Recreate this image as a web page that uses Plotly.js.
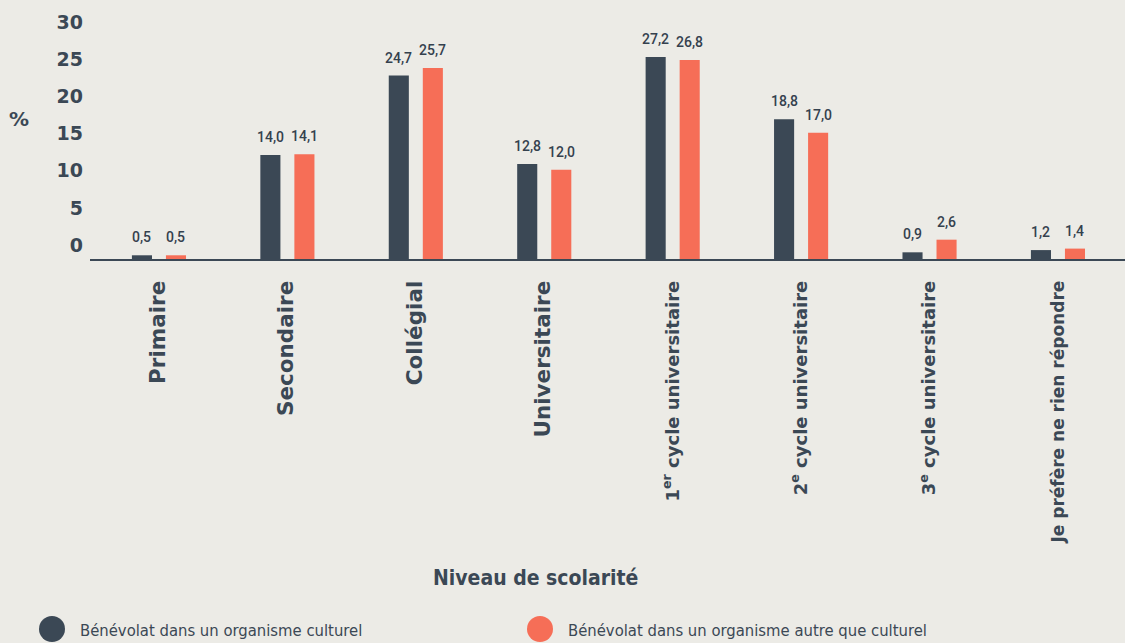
<!DOCTYPE html>
<html>
<head>
<meta charset="utf-8">
<script src="https://cdn.plot.ly/plotly-3.0.1.min.js"></script>
<style>
html,body{margin:0;padding:0;background:#ecebe6;}
#chart{width:1125px;height:643px;}
</style>
</head>
<body>
<div id="chart"></div>
<script>
// ---- data ----
var categories = ["Primaire","Secondaire","Collégial","Universitaire","1er cycle universitaire","2e cycle universitaire","3e cycle universitaire","Je préfère ne rien répondre"];
var tickLabels = ["Primaire","Secondaire","Collégial","Universitaire","1<sup>er</sup> cycle universitaire","2<sup>e</sup> cycle universitaire","3<sup>e</sup> cycle universitaire","Je préfère ne rien répondre"];
var seriesNames = ["Bénévolat dans un organisme culturel","Bénévolat dans un organisme autre que culturel"];
var culturel = [0.5, 14.0, 24.7, 12.8, 27.2, 18.8, 0.9, 1.2];
var autre    = [0.5, 14.1, 25.7, 12.0, 26.8, 17.0, 2.6, 1.4];
var yTicks = [0, 5, 10, 15, 20, 25, 30];
var axisTitle = "Niveau de scolarité";
var yTitle = "%";

// ---- style ----
var DARK = "#3b4855";
var ORANGE = "#f66e57";
var BG = "#ecebe6";
var W = 1125, H = 643;
var M = {l: 90, r: 0, t: 20, b: 384};
var BOLD = "DejaVu Sans";
var labelSizes = [21.5, 21.5, 21.5, 21.5, 18, 18, 18, 17];

function pxX(px){ return (px - M.l) / (W - M.l - M.r); }
function pxY(py){ return (H - M.b - py) / (H - M.t - M.b); }

var traces = [
  {type: "bar", x: categories, y: culturel, name: seriesNames[0], marker: {color: DARK}, showlegend: false, hoverinfo: "y"},
  {type: "bar", x: categories, y: autre, name: seriesNames[1], marker: {color: ORANGE}, showlegend: false, hoverinfo: "y"}
];

function fmt(v){ return v.toFixed(1).replace(".", ","); }

var annotations = [];
[culturel, autre].forEach(function(vals, si){
  vals.forEach(function(v, i){
    annotations.push({
      x: i, y: v, xref: "x", yref: "y", text: fmt(v), showarrow: false,
      yanchor: "bottom", xanchor: "center", xshift: si === 0 ? -17 : 17, yshift: 8,
      font: {family: "Roboto", weight: 500, size: 14, color: "#34414e"}
    });
  });
});

annotations.push({
  x: pxX(19), y: pxY(119), xref: "paper", yref: "paper", text: "<b>" + yTitle + "</b>",
  showarrow: false, xanchor: "center", yanchor: "middle",
  font: {family: BOLD, size: 20, color: DARK}
});
annotations.push({
  x: pxX(535), y: pxY(578), xref: "paper", yref: "paper", text: "<b>" + axisTitle + "</b>",
  showarrow: false, xanchor: "center", yanchor: "middle",
  font: {family: "DejaVu Sans Condensed", size: 21, color: DARK}
});
var legendX = [52, 540];
var legendColors = [DARK, ORANGE];
var shapes = [];
seriesNames.forEach(function(n, i){
  shapes.push({
    type: "circle", xref: "paper", yref: "paper", xsizemode: "pixel", ysizemode: "pixel",
    xanchor: pxX(legendX[i]), yanchor: pxY(629), x0: -13, x1: 13, y0: -13, y1: 13,
    fillcolor: legendColors[i], line: {width: 0}
  });
  annotations.push({
    x: pxX(legendX[i] + 26), y: pxY(630), xref: "paper", yref: "paper", text: n,
    showarrow: false, xanchor: "left", yanchor: "middle",
    font: {family: "DejaVu Sans Condensed", size: 16.5, color: DARK}
  });
});

var layout = {
  width: W, height: H,
  margin: M,
  paper_bgcolor: BG, plot_bgcolor: BG,
  barmode: "group",
  bargap: 0.47,
  bargroupgap: 0.41,
  showlegend: false,
  xaxis: {
    type: "category",
    range: [-0.537, 7.522],
    tickvals: categories,
    ticktext: tickLabels.map(function(t, i){
      return "<b><span style=\"font-size:" + labelSizes[i] + "px\">" + t + "</span></b>";
    }),
    tickangle: -90,
    ticks: "",
    ticklabelstandoff: 13,
    tickfont: {family: BOLD, size: 18, color: DARK},
    showline: true, linecolor: DARK, linewidth: 1.5,
    showgrid: false, zeroline: false, fixedrange: true
  },
  yaxis: {
    range: [0, 32.17],
    tickvals: yTicks,
    ticktext: yTicks.map(function(t){ return "<b>" + t + "</b>"; }),
    ticks: "",
    ticklabelshift: -14,
    ticklabelstandoff: 6,
    tickfont: {family: BOLD, size: 19, color: DARK},
    showline: false, showgrid: false, zeroline: false, fixedrange: true
  },
  annotations: annotations,
  shapes: shapes
};

Plotly.newPlot("chart", traces, layout, {displayModeBar: false, staticPlot: true});
</script>
</body>
</html>
